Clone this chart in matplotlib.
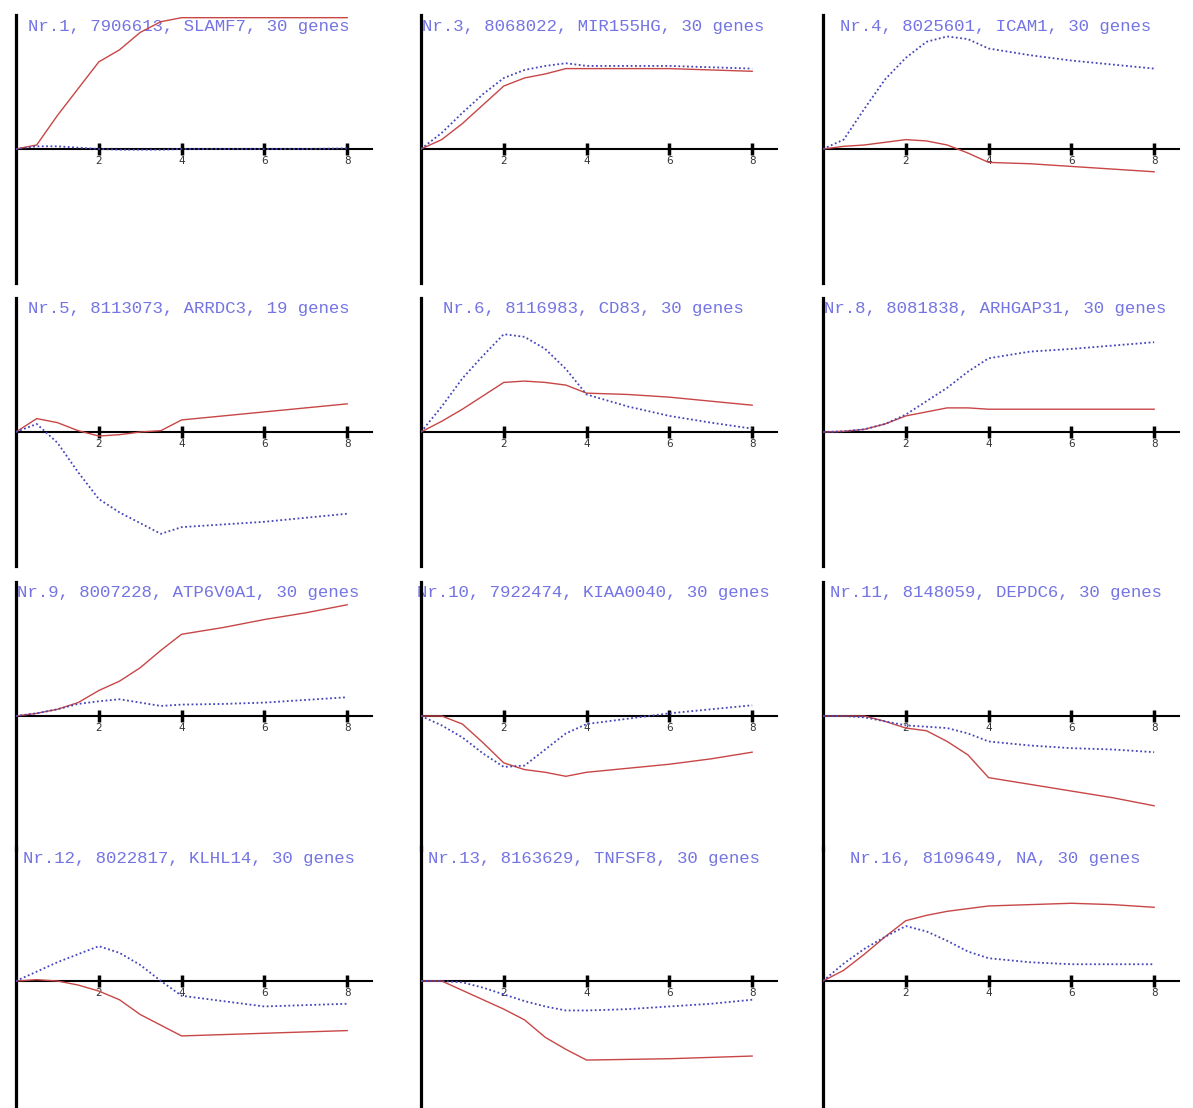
import numpy as np
import matplotlib.pyplot as plt

# time points (hours)
hours = [0, 0.5, 1, 1.5, 2, 2.5, 3, 3.5, 4, 5, 6, 7, 8]

titles = ["Nr.1, 7906613, SLAMF7, 30 genes",
          "Nr.3, 8068022, MIR155HG, 30 genes",
          "Nr.4, 8025601, ICAM1, 30 genes",
          "Nr.5, 8113073, ARRDC3, 19 genes",
          "Nr.6, 8116983, CD83, 30 genes",
          "Nr.8, 8081838, ARHGAP31, 30 genes",
          "Nr.9, 8007228, ATP6V0A1, 30 genes",
          "Nr.10, 7922474, KIAA0040, 30 genes",
          "Nr.11, 8148059, DEPDC6, 30 genes",
          "Nr.12, 8022817, KLHL14, 30 genes",
          "Nr.13, 8163629, TNFSF8, 30 genes",
          "Nr.16, 8109649, NA, 30 genes"]

# red = solid, blue = dotted
red_slamf7 = [0, 0.03, 0.25, 0.45, 0.65, 0.74, 0.87, 0.95, 0.98, 0.98, 0.98, 0.98, 0.98]
blue_slamf7 = [0, 0.02, 0.02, 0.01, 0, -0.005, -0.005, -0.005, 0, 0, 0, 0, 0.005]
red_mir155hg = [0, 0.07, 0.19, 0.33, 0.47, 0.53, 0.56, 0.6, 0.6, 0.6, 0.6, 0.59, 0.58]
blue_mir155hg = [0, 0.12, 0.27, 0.41, 0.53, 0.59, 0.62, 0.64, 0.62, 0.62, 0.62, 0.61, 0.6]
red_icam1 = [0, 0.02, 0.03, 0.05, 0.07, 0.06, 0.03, -0.03, -0.1, -0.11, -0.13, -0.15, -0.17]
blue_icam1 = [0, 0.07, 0.3, 0.52, 0.68, 0.8, 0.84, 0.82, 0.75, 0.7, 0.66, 0.63, 0.6]
red_arrdc3 = [0, 0.1, 0.07, 0.01, -0.03, -0.02, 0, 0.01, 0.09, 0.12, 0.15, 0.18, 0.21]
blue_arrdc3 = [0, 0.06, -0.08, -0.3, -0.5, -0.6, -0.68, -0.76, -0.71, -0.69, -0.67, -0.64, -0.61]
red_cd83 = [0, 0.08, 0.17, 0.27, 0.37, 0.38, 0.37, 0.35, 0.29, 0.28, 0.26, 0.23, 0.2]
blue_cd83 = [0, 0.19, 0.4, 0.57, 0.73, 0.71, 0.62, 0.47, 0.28, 0.19, 0.12, 0.07, 0.025]
red_arhgap31 = [0, 0.005, 0.02, 0.06, 0.12, 0.15, 0.18, 0.18, 0.17, 0.17, 0.17, 0.17, 0.17]
blue_arhgap31 = [0, 0.005, 0.02, 0.06, 0.13, 0.23, 0.33, 0.45, 0.55, 0.6, 0.62, 0.645, 0.67]
red_atp6v0a1 = [0, 0.02, 0.05, 0.1, 0.19, 0.26, 0.36, 0.49, 0.61, 0.66, 0.72, 0.77, 0.83]
blue_atp6v0a1 = [0, 0.02, 0.05, 0.09, 0.11, 0.125, 0.1, 0.075, 0.085, 0.09, 0.1, 0.12, 0.14]
red_kiaa0040 = [0, 0, -0.06, -0.2, -0.35, -0.4, -0.42, -0.45, -0.42, -0.39, -0.36, -0.32, -0.27]
blue_kiaa0040 = [0, -0.07, -0.16, -0.28, -0.38, -0.37, -0.25, -0.13, -0.06, -0.02, 0.02, 0.05, 0.08]
red_depdc6 = [0, 0, 0, -0.04, -0.09, -0.11, -0.19, -0.29, -0.46, -0.51, -0.56, -0.61, -0.67]
blue_depdc6 = [0, 0, -0.01, -0.04, -0.07, -0.08, -0.09, -0.13, -0.19, -0.22, -0.24, -0.25, -0.27]
red_klhl14 = [0, 0.01, 0, -0.03, -0.075, -0.14, -0.25, -0.33, -0.41, -0.4, -0.39, -0.38, -0.37]
blue_klhl14 = [0, 0.07, 0.14, 0.2, 0.26, 0.21, 0.12, 0.0, -0.11, -0.15, -0.19, -0.18, -0.17]
red_tnfsf8 = [0, 0, -0.07, -0.14, -0.21, -0.29, -0.42, -0.51, -0.59, -0.585, -0.58, -0.57, -0.56]
blue_tnfsf8 = [0, 0, -0.01, -0.05, -0.1, -0.15, -0.19, -0.22, -0.22, -0.21, -0.19, -0.17, -0.14]
red_na = [0, 0.08, 0.2, 0.33, 0.45, 0.49, 0.52, 0.54, 0.56, 0.57, 0.58, 0.57, 0.55]
blue_na = [0, 0.13, 0.24, 0.33, 0.41, 0.37, 0.3, 0.22, 0.17, 0.14, 0.125, 0.125, 0.125]

reds = [red_slamf7, red_mir155hg, red_icam1, red_arrdc3, red_cd83, red_arhgap31,
        red_atp6v0a1, red_kiaa0040, red_depdc6, red_klhl14, red_tnfsf8, red_na]
blues = [blue_slamf7, blue_mir155hg, blue_icam1, blue_arrdc3, blue_cd83, blue_arhgap31,
         blue_atp6v0a1, blue_kiaa0040, blue_depdc6, blue_klhl14, blue_tnfsf8, blue_na]

W, H = 1193, 1108
fig = plt.figure(figsize=(W / 100, H / 100), dpi=100)

col_left = [16, 421, 823]     # pixel x of the y-axis line
row_top = [15, 298, 582, 847]  # pixel y of the top of each panel
ax_w, ax_h = 356, 268

for i in range(12):
    r, c = divmod(i, 3)
    ax = fig.add_axes([col_left[c] / W, 1 - (row_top[r] + ax_h) / H, ax_w / W, ax_h / H])
    ax.set_xlim(0, 8.6)
    ax.set_ylim(-1, 1)
    ax.plot(hours, reds[i], color='#c84646', lw=1.0, zorder=3)
    ax.plot(hours, blues[i], color='#4444bb', lw=1.3, ls=(0, (1, 1.4)), zorder=3)

    ax.spines['left'].set_position(('data', 0))
    ax.spines['bottom'].set_position(('data', 0))
    ax.spines['left'].set_linewidth(2.3)
    ax.spines['bottom'].set_linewidth(1.5)
    ax.spines['top'].set_visible(False)
    ax.spines['right'].set_visible(False)
    ax.set_yticks([])
    ax.set_xticks([2, 4, 6, 8])
    ax.set_xticklabels(['2', '4', '6', '8'])
    ax.tick_params(axis='x', direction='inout', length=8, width=2.5, pad=1,
                   labelsize=7.5, labelcolor='#333333')
    ax.patch.set_alpha(0)
    ax.text(0.485, 1 - 11 / ax_h, titles[i], transform=ax.transAxes,
            ha='center', va='center', fontsize=12.5, family='Liberation Mono',
            color='#7474e4', zorder=1)

fig.savefig('out.png', dpi=100, facecolor='white')
